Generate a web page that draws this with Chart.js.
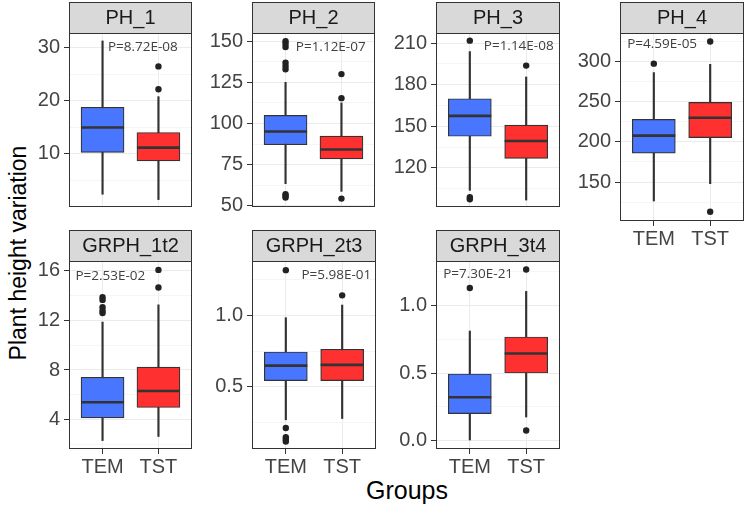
<!DOCTYPE html>
<html>
<head>
<meta charset="utf-8">
<script src="https://cdn.jsdelivr.net/npm/chart.js@4.4.1/dist/chart.umd.min.js"></script>
<style>
    body { margin: 0; background: #fff; width: 748px; height: 505px; position: relative; overflow: hidden;
           font-family: 'Liberation Sans', Arial, sans-serif; }
    canvas { position: absolute; }
    #ytitle { position: absolute; left: 18px; top: 253px; transform: translate(-50%, -50%) rotate(-90deg);
              font-size: 23px; white-space: nowrap; color: #000; }
    #xtitle { position: absolute; left: 407px; top: 490px; transform: translate(-50%, -50%);
              font-size: 25px; color: #000; }
</style>
</head>
<body>
<div id="ytitle">Plant height variation</div>
<div id="xtitle">Groups</div>
<script>
// ---- data ----
const panelNames = ['PH_1', 'PH_2', 'PH_3', 'PH_4', 'GRPH_1t2', 'GRPH_2t3', 'GRPH_3t4'];
const groups = ['TEM', 'TST'];

// [lower whisker, Q1, median, Q3, upper whisker]
const temBox = [
    [2.4, 10.3, 15.0, 18.8, 31.3],
    [63.4, 87.1, 95.1, 104.9, 125],
    [103.8, 142.8, 157.5, 169.9, 203.9],
    [126.4, 186, 207.9, 228, 286.4],
    [2.3, 4.13, 5.4, 7.41, 11.87],
    [0.27, 0.544, 0.649, 0.744, 0.984],
    [0.0, 0.199, 0.321, 0.493, 0.811]
];
const tstBox = [
    [1.4, 8.7, 11.2, 14.05, 20.8],
    [58.7, 78.4, 84.2, 92.3, 112.5],
    [96.8, 126.8, 139.4, 150.9, 185.6],
    [148, 205.4, 230.2, 249.2, 296.7],
    [2.63, 4.97, 6.3, 8.24, 13.26],
    [0.279, 0.544, 0.654, 0.763, 1.072],
    [0.174, 0.5, 0.645, 0.767, 1.105]
];
const temOutliers = [
    [],
    [150, 148.5, 146.5, 137, 135, 133, 57, 56, 55],
    [211.8, 98.8, 97.3],
    [297.5],
    [13.88, 13.66, 13.07, 12.78, 12.6],
    [1.316, 0.213, 0.148, 0.132, 0.118],
    [1.13]
];
const tstOutliers = [
    [22.2, 26.5],
    [130, 115.4, 54.3],
    [193.8],
    [325.2, 113],
    [16.08, 14.66],
    [1.14],
    [1.267, 0.074]
];
const pValues = ['P=8.72E-08', 'P=1.12E-07', 'P=1.14E-08', 'P=4.59E-05', 'P=2.53E-02', 'P=5.98E-01', 'P=7.30E-21'];

const yMin = [0, 49.2, 91.8, 101.5, 1.62, 0.066, -0.063];
const yMax = [32.8, 155, 217.3, 335.7, 16.8, 1.38, 1.33];
const yTicks = [
    [10, 20, 30],
    [50, 75, 100, 125, 150],
    [120, 150, 180, 210],
    [150, 200, 250, 300],
    [4, 8, 12, 16],
    [0.5, 1.0],
    [0, 0.5, 1.0]
];
const yTickLabels = [
    ['10', '20', '30'],
    ['50', '75', '100', '125', '150'],
    ['120', '150', '180', '210'],
    ['150', '200', '250', '300'],
    ['4', '8', '12', '16'],
    ['0.5', '1.0'],
    ['0.0', '0.5', '1.0']
];

// ---- layout / styles ----
const AXIS_W = 60, STRIP_H = 31, XAXIS_H = 28;
const frames = [
    { left: 69,  top: 33,  width: 125, height: 188, xLabels: false },
    { left: 252, top: 33,  width: 125, height: 188, xLabels: false },
    { left: 436, top: 33,  width: 126, height: 188, xLabels: false },
    { left: 620, top: 33,  width: 126, height: 188, xLabels: true },
    { left: 69,  top: 261, width: 125, height: 188, xLabels: true },
    { left: 252, top: 261, width: 126, height: 188, xLabels: true },
    { left: 436, top: 261, width: 126, height: 188, xLabels: true }
];
// p label centre: fraction across the panel, pixels below its top
const pPos = [[0.6, 14], [0.64, 14], [0.667, 13], [0.34, 11], [0.336, 15], [0.68, 14], [0.34, 13]];
const fills = ['#4876FF', '#FF3030'];
const ink = '#333333';

Chart.defaults.font.family = "'Liberation Sans', Arial, sans-serif";
Chart.defaults.animation = false;

const panelPlugin = {
    id: 'panel',
    afterDatasetsDraw(chart, args, opts) {
        // median lines across each box
        const { ctx, scales: { x, y } } = chart;
        const boxes = chart.getDatasetMeta(1).data;
        ctx.save();
        ctx.strokeStyle = ink;
        ctx.lineWidth = 2.6;
        opts.medians.forEach((m, j) => {
            const cx = x.getPixelForValue(j + 1);
            const half = boxes[j].width / 2;
            const py = y.getPixelForValue(m);
            ctx.beginPath();
            ctx.moveTo(cx - half, py);
            ctx.lineTo(cx + half, py);
            ctx.stroke();
        });
        ctx.restore();
    },
    afterDraw(chart, args, opts) {
        const { ctx, chartArea: a } = chart;
        const l = Math.round(a.left) + 0.5, r = Math.round(a.right) - 0.5;
        const t = Math.round(a.top) + 0.5, b = Math.round(a.bottom) - 0.5;
        ctx.save();
        // panel border
        ctx.strokeStyle = ink;
        ctx.lineWidth = 1;
        ctx.strokeRect(l, t, r - l, b - t);
        // strip
        ctx.fillStyle = '#D9D9D9';
        ctx.fillRect(l, 0.5, r - l, t - 0.5);
        ctx.strokeRect(l, 0.5, r - l, t - 0.5);
        ctx.fillStyle = '#1a1a1a';
        ctx.font = "20px 'Liberation Sans', Arial, sans-serif";
        ctx.textAlign = 'center';
        ctx.textBaseline = 'middle';
        ctx.fillText(opts.title, (l + r) / 2, t / 2 + 1);
        // p value
        ctx.fillStyle = '#404040';
        ctx.font = "13.5px 'Open Sans', sans-serif";
        ctx.fillText(opts.pText, a.left + opts.pFrac * (a.right - a.left), a.top + opts.pDy);
        ctx.restore();
    }
};

panelNames.forEach((name, i) => {
    const f = frames[i];
    const canvas = document.createElement('canvas');
    const w = AXIS_W + f.width + 2;
    const h = STRIP_H + f.height + (f.xLabels ? XAXIS_H : 0) + 2;
    canvas.width = w;
    canvas.height = h;
    canvas.style.left = (f.left - AXIS_W) + 'px';
    canvas.style.top = (f.top - STRIP_H) + 'px';
    document.body.appendChild(canvas);

    const boxes = [temBox[i], tstBox[i]];
    const outliers = [];
    temOutliers[i].forEach(v => outliers.push({ x: 1, y: v }));
    tstOutliers[i].forEach(v => outliers.push({ x: 2, y: v }));

    const major = yTicks[i];
    const step = major[1] - major[0];

    new Chart(canvas, {
        type: 'bar',
        data: {
            datasets: [
                {   // whiskers
                    data: boxes.map((s, j) => ({ x: j + 1, y: [s[0], s[4]] })),
                    backgroundColor: ink,
                    barThickness: 1.5,
                    grouped: false,
                    order: 3
                },
                {   // boxes
                    data: boxes.map((s, j) => ({ x: j + 1, y: [s[1], s[3]] })),
                    backgroundColor: fills,
                    borderColor: ink,
                    borderWidth: 1.2,
                    borderSkipped: false,
                    barThickness: 43,
                    grouped: false,
                    order: 2
                },
                {   // outliers
                    type: 'scatter',
                    data: outliers,
                    pointRadius: 3.2,
                    pointBackgroundColor: '#222',
                    pointBorderWidth: 0,
                    order: 1
                }
            ]
        },
        options: {
            responsive: false,
            layout: { padding: { top: STRIP_H, right: 2, bottom: 2, left: 0 } },
            plugins: {
                legend: { display: false },
                tooltip: { enabled: false },
                panel: {
                    title: name,
                    pText: pValues[i],
                    pFrac: pPos[i][0],
                    pDy: pPos[i][1],
                    medians: boxes.map(s => s[2])
                }
            },
            scales: {
                x: {
                    type: 'linear',
                    min: 0.4,
                    max: 2.6,
                    offset: false,
                    afterBuildTicks: s => { s.ticks = [{ value: 1 }, { value: 2 }]; },
                    afterFit: s => { s.height = f.xLabels ? XAXIS_H : 0; },
                    border: { display: false },
                    grid: { offset: false, color: '#EBEBEB', drawTicks: f.xLabels, tickLength: 5, tickColor: ink },
                    ticks: {
                        display: f.xLabels,
                        autoSkip: false,
                        maxRotation: 0,
                        padding: 1,
                        color: '#444',
                        font: { size: 20 },
                        callback: v => groups[Math.round(v) - 1]
                    }
                },
                y: {
                    type: 'linear',
                    min: yMin[i],
                    max: yMax[i],
                    afterBuildTicks: s => {
                        const t = [];
                        const first = major[0] - step / 2;
                        if (first >= yMin[i]) t.push({ value: first, minor: true });
                        major.forEach((v, k) => {
                            t.push({ value: v, minor: false, text: yTickLabels[i][k] });
                            const mid = v + step / 2;
                            if (mid <= yMax[i]) t.push({ value: mid, minor: true });
                        });
                        s.ticks = t;
                    },
                    afterFit: s => { s.width = AXIS_W; },
                    border: { display: false },
                    grid: {
                        offset: false,
                        color: c => (c.tick && c.tick.minor) ? '#F5F5F5' : '#EBEBEB',
                        tickColor: c => (c.tick && c.tick.minor) ? 'rgba(0,0,0,0)' : ink,
                        tickLength: 5
                    },
                    ticks: {
                        autoSkip: false,
                        padding: 4,
                        color: '#444',
                        font: { size: 20 },
                        callback: function (v, k, ticks) { return ticks[k].minor ? '' : ticks[k].text; }
                    }
                }
            }
        },
        plugins: [panelPlugin]
    });
});
</script>
</body>
</html>
